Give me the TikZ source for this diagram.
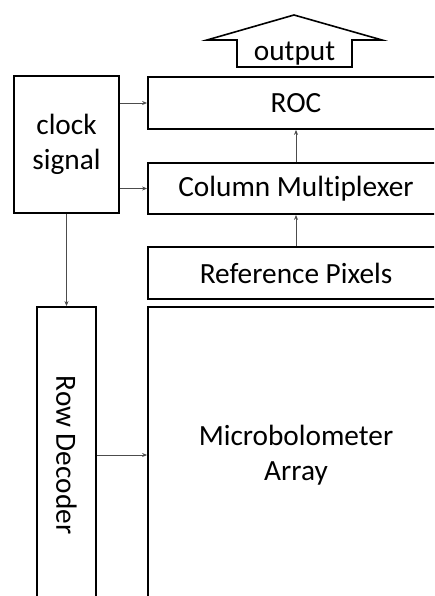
\documentclass[tikz,border=0pt]{standalone}
\usepackage{fontspec}
\setmainfont{Carlito}[Ligatures=NoCommon]
\usetikzlibrary{positioning,arrows.meta}

\begin{document}
\begin{tikzpicture}[x=1pt,y=-1pt,
  every node/.style={font=\fontsize{29.3}{35}\selectfont},
  blk/.style={draw,line width=1.8pt,inner sep=0pt},
  link/.style={-{Stealth[length=5pt,width=4pt]},line width=0.8pt,black!70}]
\clip (0,0) rectangle (434,596);
% left column
\node[blk,minimum width=105,minimum height=137,align=center] (clk) at (66.5,144.5) {clock\\signal};
\node[blk,minimum width=59,minimum height=296] (rowdec) at (66.5,455) {};
\node[rotate=-90] (rowtxt) at (rowdec) {Row Decoder};
% right column (runs past the page edge)
\node[blk,minimum width=296,minimum height=52] (roc) at (296,103) {ROC};
\node[blk,minimum width=296,minimum height=51] (mux) at (296,188.5) {Column Multiplexer};
\node[blk,minimum width=296,minimum height=52] (ref) at (296,273) {Reference Pixels};
\node[blk,minimum width=296,minimum height=296,align=center] (arr) at (296,455) {Microbolometer\\Array};
% output arrow
\draw[line width=1.6pt,line join=miter] (294,15) -- (382,40) -- (352,40) -- (352,67)
  -- (237,67) -- (237,40) -- (207,40) -- cycle;
\node (out) at (294.5,54) {output};
% signals
\draw[link] (clk.east |- roc.west) -- (roc.west);
\draw[link] (clk.east |- mux.west) -- (mux.west);
\draw[link] (clk) -- (rowdec);
\draw[link] (rowdec) -- (arr);
\draw[link] (ref) -- (mux);
\draw[link] (mux) -- (roc);
\end{tikzpicture}
\end{document}
